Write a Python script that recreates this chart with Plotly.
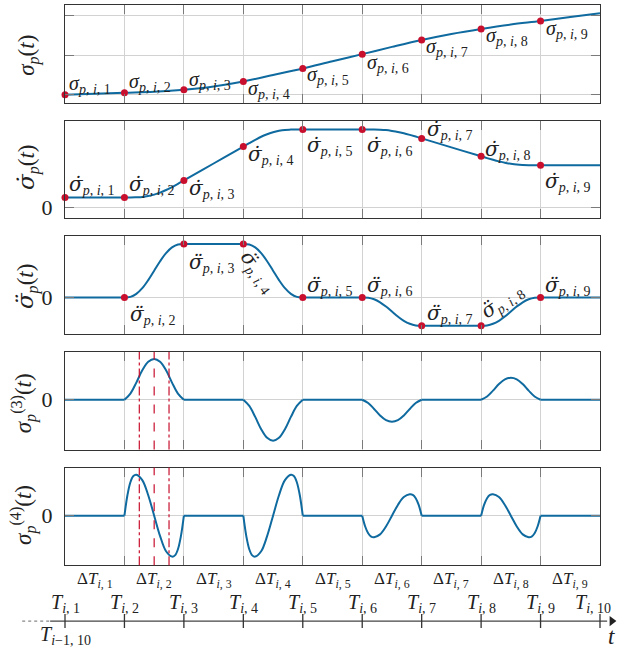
import plotly.graph_objects as go

# ---------------- data ----------------
KNOT_X = [0, 1, 2, 3, 4, 5, 6, 7, 8, 9]
KNOT_IDS = [1, 2, 3, 4, 5, 6, 7, 8, 9, 10]
DT_IDS = [1, 2, 3, 4, 5, 6, 7, 8, 9]
T_LABELS = [f"<i>T</i><sub><i>i</i>, {k}</sub>" for k in KNOT_IDS]
DT_LABELS = [f"Δ<i>T</i><sub><i>i</i>, {k}</sub>" for k in DT_IDS]
T_PREV_LABEL = "<i>T</i><sub><i>i</i>−1, 10</sub>"

# panel 1: sigma_p(t)
POS_X = [0, 0.5, 1, 1.5, 2, 2.5, 3, 3.5, 4, 4.5, 5, 5.5, 6, 6.5, 7, 7.5, 8, 8.5, 9]
POS_Y = [0, 0.024, 0.05, 0.076, 0.127, 0.211, 0.338, 0.501, 0.667, 0.851,
         1.03, 1.214, 1.39, 1.543, 1.67, 1.781, 1.87, 1.97, 2.07]
POS_MARK_X = [0, 1, 2, 3, 4, 5, 6, 7, 8]
POS_MARK_Y = [0, 0.05, 0.127, 0.338, 0.667, 1.03, 1.39, 1.67, 1.87]

# panel 2: first derivative
VEL_X = [0, 1, 1.1, 1.2, 1.3, 1.4, 1.5, 1.6, 1.7, 1.8, 1.9, 2.0, 2.5,
         3.0, 3.1, 3.2, 3.3, 3.4, 3.5, 3.6, 3.7, 3.8, 3.9, 4.0, 5.0,
         5.1, 5.2, 5.3, 5.4, 5.5, 5.6, 5.7, 5.8, 5.9, 6.0, 6.5,
         7.0, 7.1, 7.2, 7.3, 7.4, 7.5, 7.6, 7.7, 7.8, 7.9, 8.0, 9.0]
VEL_Y = [1.03, 1.03, 1.03, 1.05, 1.08, 1.17, 1.31, 1.51, 1.77, 2.07, 2.39, 2.73, 4.43,
         6.13, 6.47, 6.80, 7.11, 7.36, 7.57, 7.71, 7.80, 7.83, 7.85, 7.85, 7.85,
         7.85, 7.84, 7.82, 7.78, 7.70, 7.60, 7.46, 7.30, 7.13, 6.95, 6.05,
         5.15, 4.97, 4.80, 4.64, 4.50, 4.40, 4.32, 4.28, 4.26, 4.25, 4.25, 4.25]
VEL_MARK_X = [0, 1, 2, 3, 4, 5, 6, 7, 8]
VEL_MARK_Y = [1.03, 1.03, 2.73, 6.13, 7.85, 7.85, 6.95, 5.15, 4.25]

# panel 3: second derivative (segments separated by None)
ACC_X = [0, 1, None,
         1, 1.1, 1.2, 1.3, 1.4, 1.5, 1.6, 1.7, 1.8, 1.9, 2, None,
         2, 3, None,
         3, 3.1, 3.2, 3.3, 3.4, 3.5, 3.6, 3.7, 3.8, 3.9, 4, None,
         4, 5, None,
         5, 5.1, 5.2, 5.3, 5.4, 5.5, 5.6, 5.7, 5.8, 5.9, 6, None,
         6, 7, None,
         7, 7.1, 7.2, 7.3, 7.4, 7.5, 7.6, 7.7, 7.8, 7.9, 8, None,
         8, 9]
ACC_Y = [0, 0, None,
         0, 0.05, 0.35, 0.92, 1.73, 2.68, 3.63, 4.44, 5.01, 5.31, 5.36, None,
         5.36, 5.36, None,
         5.36, 5.31, 5.01, 4.44, 3.63, 2.68, 1.73, 0.92, 0.35, 0.05, 0, None,
         0, 0, None,
         0, -0.03, -0.19, -0.49, -0.92, -1.42, -1.92, -2.35, -2.65, -2.81, -2.84, None,
         -2.84, -2.84, None,
         -2.84, -2.81, -2.65, -2.35, -1.92, -1.42, -0.92, -0.49, -0.19, -0.03, 0, None,
         0, 0]
ACC_MARK_X = [1, 2, 3, 4, 5, 6, 7, 8]
ACC_MARK_Y = [0, 5.36, 5.36, 0, 0, -2.84, -2.84, 0]

# panel 4: third derivative
JERK_X = [0, 1, None,
          1, 1.1, 1.2, 1.3, 1.4, 1.5, 1.6, 1.7, 1.8, 1.9, 2, None,
          2, 3, None,
          3, 3.1, 3.2, 3.3, 3.4, 3.5, 3.6, 3.7, 3.8, 3.9, 4, None,
          4, 5, None,
          5, 5.1, 5.2, 5.3, 5.4, 5.5, 5.6, 5.7, 5.8, 5.9, 6, None,
          6, 7, None,
          7, 7.1, 7.2, 7.3, 7.4, 7.5, 7.6, 7.7, 7.8, 7.9, 8, None,
          8, 9]
JERK_Y = [0, 0, None,
          0, 0.62, 1.72, 2.95, 3.81, 4.1, 3.81, 2.95, 1.72, 0.62, 0, None,
          0, 0, None,
          0, -0.62, -1.72, -2.95, -3.81, -4.1, -3.81, -2.95, -1.72, -0.62, 0, None,
          0, 0, None,
          0, -0.33, -0.92, -1.58, -2.05, -2.2, -2.05, -1.58, -0.92, -0.33, 0, None,
          0, 0, None,
          0, 0.33, 0.92, 1.58, 2.05, 2.2, 2.05, 1.58, 0.92, 0.33, 0, None,
          0, 0]

# panel 5: fourth derivative
SNAP_X = [0, 1, None,
          1, 1.05, 1.1, 1.15, 1.2, 1.3, 1.4, 1.5, 1.6, 1.7, 1.8, 1.85, 1.9, 1.95, 2, None,
          2, 3, None,
          3, 3.05, 3.1, 3.15, 3.2, 3.3, 3.4, 3.5, 3.6, 3.7, 3.8, 3.85, 3.9, 3.95, 4, None,
          4, 5, None,
          5, 5.05, 5.1, 5.15, 5.2, 5.3, 5.4, 5.5, 5.6, 5.7, 5.8, 5.85, 5.9, 5.95, 6, None,
          6, 7, None,
          7, 7.05, 7.1, 7.15, 7.2, 7.3, 7.4, 7.5, 7.6, 7.7, 7.8, 7.85, 7.9, 7.95, 8, None,
          8, 9]
SNAP_Y = [0, 0, None,
          0, 2.05, 3.36, 3.98, 4.1, 3.57, 2.05, 0, -2.05, -3.57, -4.1, -3.98, -3.36, -2.05, 0, None,
          0, 0, None,
          0, -2.05, -3.36, -3.98, -4.1, -3.57, -2.05, 0, 2.05, 3.57, 4.1, 3.98, 3.36, 2.05, 0, None,
          0, 0, None,
          0, -1.08, -1.76, -2.09, -2.15, -1.87, -1.08, 0, 1.08, 1.87, 2.15, 2.09, 1.76, 1.08, 0, None,
          0, 0, None,
          0, 1.08, 1.76, 2.09, 2.15, 1.87, 1.08, 0, -1.08, -1.87, -2.15, -2.09, -1.76, -1.08, 0, None,
          0, 0]

DASH_T = [1.25, 1.5, 1.75]

# ---------------- styling ----------------
W, H = 617, 651
PX_L, PX_R = 65, 600
PX_PER = (PX_R - PX_L) / 9
PANEL_TOPS = [5, 121, 237, 353, 469]
PANEL_H = 98
BLUE = "#0f6a9f"
RED = "#c8102e"
FRAME = "#333333"
GRID = "#d2d2d2"
TICK = "#7a7a7a"
FONT = "Liberation Serif"
DFONT = "DejaVu Serif"
TXT = "#222222"

Y_RANGES = [[-0.2025, 2.278], [-1.07, 8.73], [-3.67, 6.13], [-5.0, 4.8], [-4.97, 4.83]]
Y_TICKS = [[0, 1, 2], [0], [0], [0], [0]]


def ydom(top, bottom):
    return [1 - bottom / H, 1 - top / H]


fig = go.Figure()

series = [(POS_X, POS_Y), (VEL_X, VEL_Y), (ACC_X, ACC_Y), (JERK_X, JERK_Y), (SNAP_X, SNAP_Y)]
for i, (xs, ys) in enumerate(series):
    ax = "x" if i == 0 else f"x{i+1}"
    ay = "y" if i == 0 else f"y{i+1}"
    fig.add_trace(go.Scatter(x=xs, y=ys, mode="lines", xaxis=ax, yaxis=ay,
                             line=dict(color=BLUE, width=2, shape="spline", smoothing=1),
                             connectgaps=False, hoverinfo="skip", showlegend=False))

marks = [(POS_MARK_X, POS_MARK_Y, "x", "y"), (VEL_MARK_X, VEL_MARK_Y, "x2", "y2"),
         (ACC_MARK_X, ACC_MARK_Y, "x3", "y3")]
for xs, ys, ax, ay in marks:
    fig.add_trace(go.Scatter(x=xs, y=ys, mode="markers", xaxis=ax, yaxis=ay,
                             marker=dict(color=RED, size=7), cliponaxis=False,
                             hoverinfo="skip", showlegend=False))

layout = dict(width=W, height=H, margin=dict(l=0, r=0, t=0, b=0),
              paper_bgcolor="white", plot_bgcolor="white", showlegend=False,
              font=dict(family=FONT, color=TXT))

for i in range(5):
    xk = "xaxis" if i == 0 else f"xaxis{i+1}"
    yk = "yaxis" if i == 0 else f"yaxis{i+1}"
    top = PANEL_TOPS[i]
    layout[xk] = dict(domain=[PX_L / W, PX_R / W], range=[0, 9], tickvals=KNOT_X,
                      showticklabels=False, ticks="inside", ticklen=9, tickwidth=1.3,
                      tickcolor=TICK, showgrid=True, gridcolor=GRID, gridwidth=1,
                      showline=True, linecolor=FRAME, linewidth=1.3, mirror="ticks",
                      zeroline=False, anchor="y" if i == 0 else f"y{i+1}")
    layout[yk] = dict(domain=ydom(top, top + PANEL_H), range=Y_RANGES[i], tickvals=Y_TICKS[i],
                      ticktext=["0"] * len(Y_TICKS[i]), showticklabels=(i > 0),
                      tickfont=dict(family=FONT, size=22, color=TXT), ticklabelstandoff=7,
                      ticks="inside", ticklen=9, tickwidth=1.3, tickcolor=TICK,
                      showgrid=True, gridcolor=GRID, gridwidth=1,
                      showline=True, linecolor=FRAME, linewidth=1.3, mirror="ticks",
                      zeroline=False, anchor="x" if i == 0 else f"x{i+1}")

# bottom time axis
layout["xaxis6"] = dict(domain=[0, 1], range=[-PX_L / PX_PER, (W - PX_L) / PX_PER],
                        visible=False, anchor="y6")
layout["yaxis6"] = dict(domain=[0, 81 / H], range=[-2.8, 5.3], visible=False, anchor="x6")
fig.update_layout(**layout)

fig.add_trace(go.Scatter(x=[-0.25, 9.12], y=[0, 0], mode="lines", xaxis="x6", yaxis="y6",
                         line=dict(color="#444", width=1.3), hoverinfo="skip"))
fig.add_trace(go.Scatter(x=[-0.72, -0.25], y=[0, 0], mode="lines", xaxis="x6", yaxis="y6",
                         line=dict(color="#888", width=1.2, dash="dot"), hoverinfo="skip"))
tx, ty = [], []
for k in KNOT_X:
    tx += [k, k, None]
    ty += [-0.7, 0.7, None]
fig.add_trace(go.Scatter(x=tx, y=ty, mode="lines", xaxis="x6", yaxis="y6",
                         line=dict(color="#333", width=1.3), hoverinfo="skip"))
fig.add_trace(go.Scatter(x=[9.2], y=[0], mode="markers", xaxis="x6", yaxis="y6",
                         marker=dict(symbol="triangle-right", size=9, color="#222"),
                         cliponaxis=False, hoverinfo="skip"))

ann = []
for k, lab in zip(KNOT_X, T_LABELS):
    ann.append(dict(x=k, y=1.8, xref="x6", yref="y6", text=lab, showarrow=False,
                    xanchor="center", yanchor="middle", font=dict(size=20),
                    xshift=-7 if k == KNOT_X[-1] else 0))
for k, lab in zip(KNOT_X[:-1], DT_LABELS):
    ann.append(dict(x=k + 0.5, y=4.1, xref="x6", yref="y6", text=lab, showarrow=False,
                    xanchor="center", yanchor="middle", font=dict(size=17)))
ann.append(dict(x=0, y=-1.45, xref="x6", yref="y6", text=T_PREV_LABEL, showarrow=False,
                xanchor="center", yanchor="middle", font=dict(size=20)))
ann.append(dict(x=9.2, y=-1.5, xref="x6", yref="y6", text="<i>t</i>", showarrow=False,
                xanchor="center", yanchor="middle", font=dict(size=23)))

# y-axis titles
SIG = "<i>σ</i>"
SIG_D = f"<span style='font-family:{DFONT}'><i>σ̇</i></span>"
SIG_DD = f"<span style='font-family:{DFONT}'><i>σ̈</i></span>"
Y_TITLES = [f"{SIG}<sub><i>p</i></sub>(<i>t</i>)",
            f"{SIG_D}<sub><i>p</i></sub>(<i>t</i>)",
            f"{SIG_DD}<sub><i>p</i></sub>(<i>t</i>)",
            f"{SIG}<sub><i>p</i></sub><sup>(3)</sup>(<i>t</i>)",
            f"{SIG}<sub><i>p</i></sub><sup>(4)</sup>(<i>t</i>)"]
TITLE_POS = [(29, 56), (28.5, 168), (27, 288), (23.5, 405), (23.5, 517)]
for t, (px, py) in zip(Y_TITLES, TITLE_POS):
    ann.append(dict(x=px / W, y=1 - py / H, xref="paper", yref="paper", text=t,
                    showarrow=False, textangle=-90, xanchor="center", yanchor="middle",
                    font=dict(size=23)))

# point labels
SYM = [SIG, SIG_D, SIG_DD]
P1_LAB = [(0, 2, 10, 0), (1, 3, 10, 0), (2, 3, 9, 0), (3, 3, -8, 0),
          (4, 2, -7, 0), (5, 3, -9, 0), (6, 2, -8, 0), (7, 3, -8, 0), (8, 3, -8, 0)]
P2_LAB = [(0, 2, 12, 0), (1, 3, 12, 0), (2, 3, -9, 0), (3, 3, -8, 0), (4, 2, -17, 0),
          (5, 3, -17, 0), (6, 3, 8, 0), (7, 2, 6, 0), (8, 2, -17, 0)]
P3_LAB = [(1, 4, -18, 0), (2, 3, -19, 0), (3, None, None, 54), (4, 2, 11, 0), (5, 3, 11, 0),
          (6, 3, 12, 0), (7, None, None, -35), (8, 2, 11, 0)]
ROT_SHIFT = {(2, 3): (15, -28), (2, 7): (21, 25)}
panel_marks = [(POS_MARK_X, POS_MARK_Y, P1_LAB), (VEL_MARK_X, VEL_MARK_Y, P2_LAB),
               (ACC_MARK_X, ACC_MARK_Y, P3_LAB)]
for p, (mx, my, labs) in enumerate(panel_marks):
    ax = "x" if p == 0 else f"x{p+1}"
    ay = "y" if p == 0 else f"y{p+1}"
    yv = dict(zip(mx, my))
    for (k, xs, ys, ang) in labs:
        text = f"{SYM[p]}<sub><i>p</i>, <i>i</i>, {k+1}</sub>"
        if ang == 0:
            ann.append(dict(x=k, y=yv[k], xref=ax, yref=ay, text=text, showarrow=False,
                            xanchor="left", yanchor="middle", xshift=xs, yshift=ys,
                            font=dict(size=20)))
        else:
            dx, dy = ROT_SHIFT[(p, k)]
            ann.append(dict(x=k, y=yv[k], xref=ax, yref=ay, text=text, showarrow=False,
                            xanchor="center", yanchor="middle", xshift=dx, yshift=dy,
                            textangle=ang, font=dict(size=20)))

fig.update_layout(annotations=ann)

# red dash-dot markers of sub-interval
shapes = []
for ax, ay in [("x4", "y4"), ("x5", "y5")]:
    for t in DASH_T:
        shapes.append(dict(type="line", xref=ax, yref=f"{ay} domain", x0=t, x1=t, y0=0, y1=1,
                           line=dict(color=RED, width=1.2,
                                     dash="dash" if t == DASH_T[1] else "dashdot")))
fig.update_layout(shapes=shapes)

fig.write_html("out.html", config={"displayModeBar": False},
               post_script="document.body.style.margin='0';document.body.style.overflow='hidden';")
